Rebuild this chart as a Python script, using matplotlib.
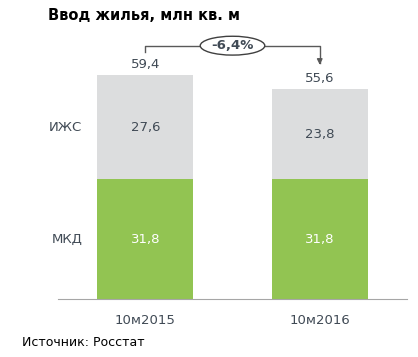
import matplotlib.pyplot as plt
from matplotlib.patches import Ellipse

periods = ['10м2015', '10м2016']
mkd = [31.8, 31.8]
izhs = [27.6, 23.8]
totals = [59.4, 55.6]
change_label = '-6,4%'
series_names = ['МКД', 'ИЖС']

text_col = '#404a55'
green = '#92c452'
grey = '#dcddde'

fig = plt.figure(figsize=(4.18, 3.57), dpi=100)
ax = fig.add_axes([58/418, (357-299)/357, 349/418, 239/357])
x = list(range(len(periods)))
w = 0.55
ax.bar(x, mkd, width=w, color=green, linewidth=0)
ax.bar(x, izhs, width=w, bottom=mkd, color=grey, linewidth=0)
ax.set_xlim(-0.5, 1.5)
ax.set_ylim(0, 63.4)

for i in x:
    ax.text(i, mkd[i] / 2, f'{mkd[i]:.1f}'.replace('.', ','), ha='center', va='center',
            color='white', fontsize=9.5)
    ax.text(i, mkd[i] + izhs[i] / 2, f'{izhs[i]:.1f}'.replace('.', ','), ha='center',
            va='center', color=text_col, fontsize=9.5)
    ax.text(i, totals[i] + 1.2, f'{totals[i]:.1f}'.replace('.', ','), ha='center',
            va='bottom', color=text_col, fontsize=9.5)

# series labels on the left
ax.text(-0.36, mkd[0] + izhs[0] / 2, series_names[1], ha='right', va='center',
        color=text_col, fontsize=9.5)
ax.text(-0.36, mkd[0] / 2, series_names[0], ha='right', va='center',
        color=text_col, fontsize=9.5)

for s in ['top', 'right', 'left']:
    ax.spines[s].set_visible(False)
ax.spines['bottom'].set_color('#a6a6a6')
ax.set_yticks([])
ax.set_xticks(x)
ax.set_xticklabels(periods, color=text_col, fontsize=9.5)
ax.tick_params(axis='x', length=0, pad=11)

# change bracket
y_top = 67.2
ax.plot([0, 0, 1, 1], [totals[0] + 6.0, y_top, y_top, totals[1] + 7.0], color='#595959',
        lw=1, clip_on=False)
ax.annotate('', xy=(1, totals[1] + 5.8), xytext=(1, totals[1] + 8.0),
            arrowprops=dict(arrowstyle='-|>', color='#595959', lw=1, mutation_scale=8),
            annotation_clip=False)
ax.add_patch(Ellipse((0.5, y_top), 0.37, 5.0, facecolor='white', edgecolor='#404040',
                     lw=1, clip_on=False, zorder=3))
ax.text(0.5, y_top, change_label, ha='center', va='center', color=text_col,
        fontsize=9.5, fontweight='bold', zorder=4)

fig.text(48/418, 1 - 16/357, 'Ввод жилья, млн кв. м', ha='left', va='center',
         fontsize=10.5, fontweight='bold', color='black')
fig.text(22/418, 1 - 342/357, 'Источник: Росстат', ha='left', va='center',
         fontsize=9, color='black')

fig.savefig('out.png', dpi=100)
